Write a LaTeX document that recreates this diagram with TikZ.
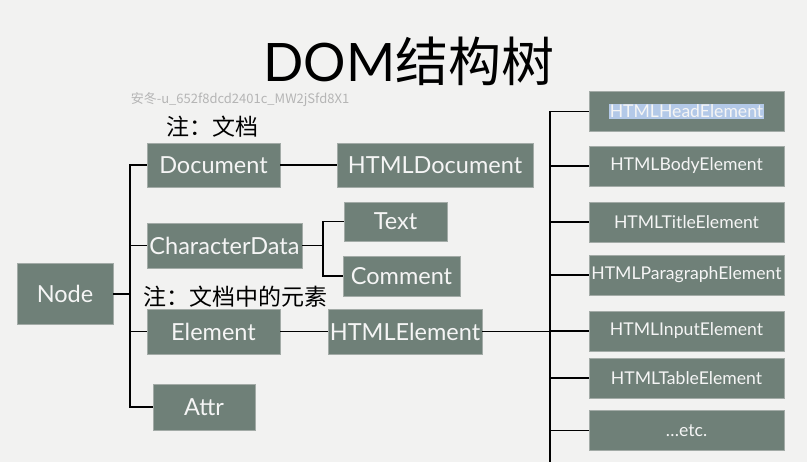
\documentclass[tikz,border=0pt]{standalone}
\usepackage{fontspec}
\setmainfont{Lato}
\newfontfamily\cjk{Noto Sans CJK SC}
\usepackage{tikz}
\definecolor{bg}{HTML}{F2F2F1}
\definecolor{boxfill}{HTML}{6F8078}
\definecolor{boxedge}{HTML}{A3ABA7}
\definecolor{wmark}{HTML}{B5B5B5}
\definecolor{selblue}{HTML}{B3C9E8}
\tikzset{
  box/.style={draw=boxedge, line width=0.8pt, fill=boxfill, text=white!96!black, inner sep=0pt, font=\fontsize{23.5}{25}\selectfont},
  rbox/.style={box, minimum width=195, minimum height=40, font=\fontsize{17.6}{19}\selectfont},
  note/.style={anchor=west, font=\cjk\fontsize{23}{25}\selectfont}
}

\begin{document}
\begin{tikzpicture}[x=1pt, y=-1pt, line width=1.7pt]
\fill[bg] (0,0) rectangle (807,462);
\useasboundingbox (0,0) rectangle (807,462);
% title and notes
\node[anchor=base, font=\fontsize{53}{56}\selectfont] (title) at (409,82) {DOM{\cjk 结构树}};
\node[text=wmark, font=\cjk\fontsize{13}{14}\selectfont] (wm) at (240,100) {安冬-u\_652f8dcd2401c\_MW2jSfd8X1};
\node[note] (note1) at (162,127) {注：文档};
\node[note] (note2) at (139,297) {注：文档中的元素};
% left part
\node[box, minimum width=96, minimum height=61] (node) at (65,294) {Node};
\node[box, minimum width=133, minimum height=44] (document) at (213.5,165) {Document};
\node[box, minimum width=155, minimum height=45] (chardata) at (224.5,245.5) {CharacterData};
\node[box, minimum width=133, minimum height=45] (element) at (213.5,331.5) {Element};
\node[box, minimum width=102, minimum height=46] (attr) at (204,407) {Attr};
\node[box, minimum width=196, minimum height=44] (htmldoc) at (435,165) {HTMLDocument};
\node[box, minimum width=103, minimum height=39] (text) at (395.5,221.5) {Text};
\node[box, minimum width=117, minimum height=40] (comment) at (401.5,276) {Comment};
\node[box, minimum width=154, minimum height=45] (htmlelem) at (405,331.5) {HTMLElement};
\coordinate (lbus) at (130,294);
\coordinate (cbus) at (323,245.5);
\coordinate (rbus) at (550,331.5);
\coordinate (rbusend) at (550,462);
\draw (node.east) -- (lbus);
\foreach \n in {document, chardata, element, attr}{
\draw (\n.west) -| (lbus);
}
\draw (document) -- (htmldoc);
\draw (chardata.east) -- (cbus);
\draw (text.west) -| (cbus);
\draw (comment.west) -| (cbus);
\draw (element) -- (htmlelem);
\draw (htmlelem.east) -- (rbus) -- (rbusend);
% right column
\node[rbox] (head) at (686.5,111.5) {\setlength{\fboxsep}{1pt}\colorbox{selblue}{HTMLHeadElement}};
\foreach \n/\y/\txt in {body/166/HTMLBodyElement, title/222/HTMLTitleElement, para/275/HTMLParagraphElement, input/331/HTMLInputElement, table/378/HTMLTableElement, etc/430.5/\dots etc.}{
\node[rbox] (\n) at (686.5,\y) {\txt};
}
\foreach \n in {head, body, title, para, input, table, etc}{
\draw (\n.west) -| (rbus);
}
\end{tikzpicture}
\end{document}
